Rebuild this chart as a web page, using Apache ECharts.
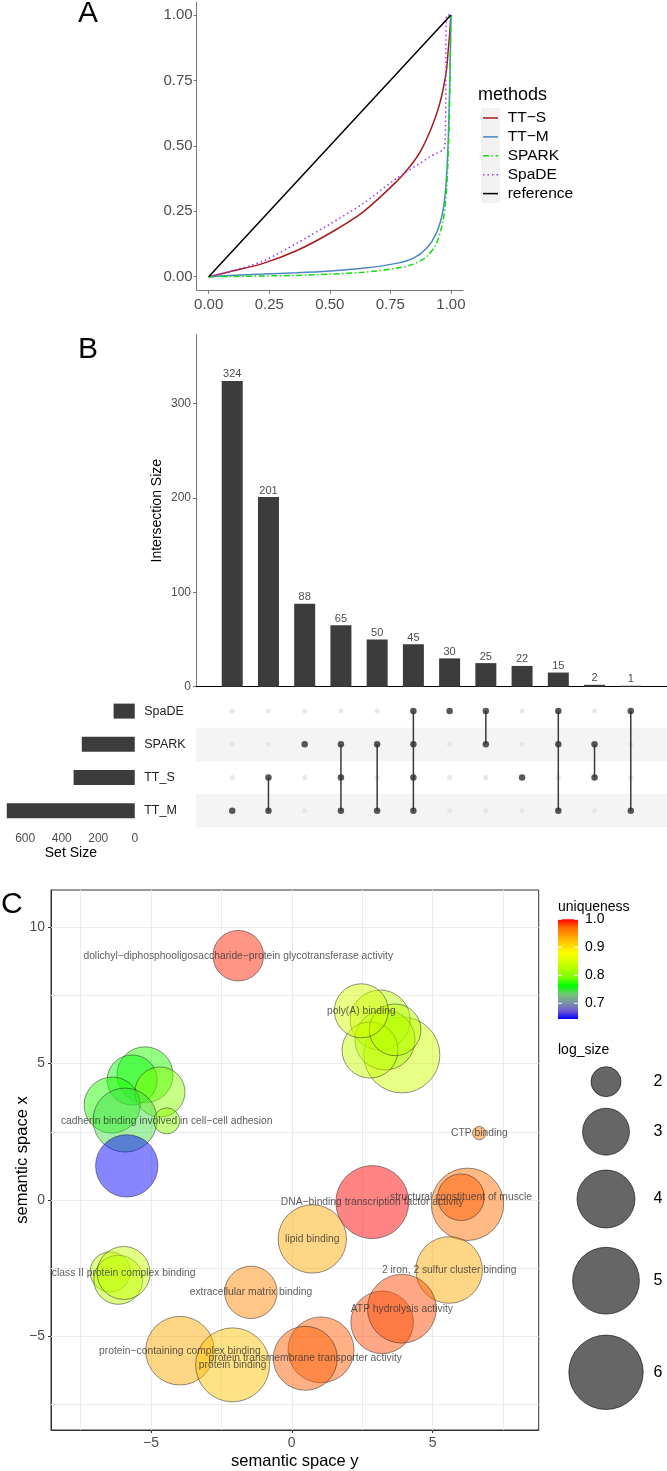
<!DOCTYPE html>
<html><head><meta charset="utf-8">
<script src="https://cdn.jsdelivr.net/npm/echarts@6/dist/echarts.min.js"></script>
<style>html,body{margin:0;padding:0;background:#fff}#c{width:667px;height:1471px}</style>
</head><body><div id="c"></div><script>
// ---------- Panel A data (Lorenz-type curves) ----------
const ttsX = [0, 0.087, 0.225, 0.362, 0.5, 0.638, 0.775, 0.83, 0.875, 0.913, 0.94, 0.954, 0.965, 0.975, 0.983, 0.989, 0.995, 0.999, 1];
const ttsY = [0, 0.019, 0.051, 0.099, 0.166, 0.248, 0.363, 0.42, 0.48, 0.554, 0.62, 0.662, 0.703, 0.751, 0.80, 0.866, 0.93, 0.99, 1];
const ttmX = [0, 0.087, 0.225, 0.362, 0.5, 0.638, 0.775, 0.844, 0.899, 0.94, 0.968, 0.982, 0.992, 0.999, 1];
const ttmY = [0, 0.005, 0.01, 0.015, 0.022, 0.032, 0.051, 0.07, 0.108, 0.166, 0.255, 0.382, 0.611, 0.93, 1];
const sparkX = [0, 0.087, 0.362, 0.5, 0.638, 0.775, 0.844, 0.899, 0.94, 0.968, 0.982, 0.992, 0.999, 1];
const sparkY = [0, 0.001, 0.005, 0.01, 0.017, 0.032, 0.048, 0.076, 0.127, 0.216, 0.331, 0.548, 0.905, 1];
const spadeX = [0, 0.087, 0.225, 0.362, 0.5, 0.638, 0.775, 0.913, 0.975, 0.983, 1];
const spadeY = [0, 0.02, 0.06, 0.127, 0.201, 0.28, 0.375, 0.458, 0.499, 1.0, 1.0];
const refX = [0, 1];
const refY = [0, 1];
const methodNames = ['TT\u2212S', 'TT\u2212M', 'SPARK', 'SpaDE', 'reference'];
const ticksA = [0, 0.25, 0.5, 0.75, 1];

// ---------- Panel B data (UpSet) ----------
const setNames = ['TT_M', 'TT_S', 'SPARK', 'SpaDE'];          // bottom to top
const setSizes = [701, 335, 290, 116];
const interSizes = [324, 201, 88, 65, 50, 45, 30, 25, 22, 15, 2, 1];
const interSets = [
  ['TT_M'], ['TT_S', 'TT_M'], ['SPARK'], ['SPARK', 'TT_S', 'TT_M'], ['SPARK', 'TT_M'],
  ['SpaDE', 'SPARK', 'TT_S', 'TT_M'], ['SpaDE'], ['SpaDE', 'SPARK'], ['TT_S'],
  ['SpaDE', 'SPARK', 'TT_M'], ['SPARK', 'TT_S'], ['SpaDE', 'TT_M']
];
const interTicks = [0, 100, 200, 300];
const setTicks = [0, 200, 400, 600];

// ---------- Panel C data (GO semantic space) ----------
const goTerm = [
  'dolichyl\u2212diphosphooligosaccharide\u2212protein glycotransferase activity',
  '', '', '', '', '', 'poly(A) binding',
  '', '', '', '', '', 'cadherin binding involved in cell\u2212cell adhesion',
  '', 'CTP binding', 'DNA\u2212binding transcription factor activity',
  '', 'structural constituent of muscle', 'lipid binding', '2 iron, 2 sulfur cluster binding',
  '', '', 'class II protein complex binding', 'extracellular matrix binding',
  '', 'ATP hydrolysis activity', 'protein\u2212containing complex binding', 'protein binding',
  '', 'protein transmembrane transporter activity'
];
const goX = [-1.90, 3.91, 3.14, 3.31, 2.78, 3.67, 2.47, -5.21, -5.67, -4.68, -6.38, -5.92, -4.44,
  -5.86, 6.66, 2.86, 6.24, 6.01, 0.73, 5.59, -6.45, -6.16, -5.97, -1.45, 3.21, 3.91, -3.97, -2.10, 1.04, 0.48];
const goY = [8.96, 5.32, 6.60, 5.87, 5.50, 6.24, 6.94, 4.59, 4.40, 3.96, 3.48, 2.93, 2.90,
  1.25, 2.45, -0.08, -0.16, 0.10, -1.43, -2.57, -2.64, -2.93, -2.68, -3.39, -4.49, -3.99, -5.53, -6.05, -5.50, -5.81];
const goLogSize = [3.31, 6.23, 4.22, 4.22, 3.81, 3.40, 3.61, 3.81, 3.26, 3.26, 3.81, 4.67, 1.86,
  4.48, 1.64, 5.81, 5.72, 2.98, 5.20, 4.98, 2.52, 3.17, 3.52, 3.47, 4.51, 5.25, 5.23, 5.94, 4.90, 4.67];
const goUniq = [0.99, 0.845, 0.83, 0.82, 0.84, 0.83, 0.85, 0.77, 0.76, 0.80, 0.77, 0.745, 0.80,
  0.645, 0.96, 1.0, 0.97, 0.975, 0.935, 0.935, 0.83, 0.83, 0.84, 0.955, 0.98, 0.98, 0.935, 0.92, 0.975, 0.975];
const ticksCX = [-5, 0, 5];
const ticksCY = [-5, 0, 5, 10];
const gridLinesC = [-7.5, -5, -2.5, 0, 2.5, 5, 7.5, 10];
const uniqTicks = [0.7, 0.8, 0.9, 1.0];
const sizeTicks = [2, 3, 4, 5, 6];

// ---------- styles ----------
const FONT = "'Liberation Sans', Arial, sans-serif";
const GREY = '#4d4d4d';
const uniqMin = 0.644, uniqMax = 1.0;
const uniqColors = ['#0000FF', '#6C5BD3', '#7D93A6', '#6FC972', '#00FF00', '#79FF00', '#AEFF00',
  '#D8FF00', '#FFFF00', '#FFD100', '#FFA100', '#FF6C00', '#FF0000'];
const methodColors = ['#A61C1C', '#4A86C0', '#11DD11', '#A033FF', '#000000'];
const methodDash = ['solid', 'solid', [6, 2.5, 1.5, 2.5], [1.5, 3], 'solid'];
const rOf = ls => 6 + 14.94 * Math.sqrt(Math.max(0, ls - 1.638));
const minus = v => String(v).replace('-', '\u2212');
const zip = (a, b) => a.map((v, i) => [v, b[i]]);

const chart = echarts.init(document.getElementById('c'), null, { renderer: 'canvas', width: 667, height: 1471 });

// matrix helpers
const rowOf = n => setNames.indexOf(n) + 1;
const darkDots = [], greyDots = [], matLines = [];
interSets.forEach((s, c) => {
  setNames.forEach(n => {
    if (s.includes(n)) darkDots.push([c + 1, rowOf(n)]); else greyDots.push([c + 1, rowOf(n)]);
  });
  if (s.length > 1) {
    const rows = s.map(rowOf);
    matLines.push([c + 1, Math.min(...rows), Math.max(...rows)]);
  }
});

const goData = goX.map((x, i) => [x, goY[i], goLogSize[i], goUniq[i]]);
const goLabels = goX.map((x, i) => [x, goY[i], goTerm[i]]).filter(d => d[2]);

const txt = (text, x, y, size, align, fill) => ({ type: 'text', style: { text, x, y, font: size + 'px ' + FONT, fill: fill || '#000',
  textAlign: align || 'left', textVerticalAlign: 'middle', align: align || 'left', verticalAlign: 'middle' } });

// colour bar geometry (legend)
const cbX = 558, cbTop = 919.3, cbH = 99.7, cbW = 20;
const cbY = v => cbTop + cbH * (uniqMax - v) / (uniqMax - uniqMin);
const sizeY = [1081.7, 1131.7, 1199, 1280.7, 1372.3];

const graphics = [
  txt('A', 78, 14, 30), txt('B', 78, 350, 30), txt('C', 1, 905, 30),
  txt('methods', 478, 95, 18),
  { type: 'rect', z: -1, shape: { x: 481, y: 108, width: 19, height: 95 }, style: { fill: '#F2F2F2' } },
  txt('uniqueness', 558, 907, 14),
  { type: 'rect', shape: { x: cbX, y: cbTop, width: cbW, height: cbH },
    style: { fill: new echarts.graphic.LinearGradient(0, 1, 0, 0, uniqColors.map((c, i) => ({ offset: i / (uniqColors.length - 1), color: c }))) } },
  txt('log_size', 558, 1050, 14)
];
methodNames.forEach((n, i) => {
  const y = 118 + i * 18.9;
  graphics.push({ type: 'line', shape: { x1: 483, y1: y, x2: 498, y2: y },
    style: { stroke: methodColors[i], lineWidth: 1.5, lineDash: methodDash[i] === 'solid' ? null : methodDash[i] } });
  graphics.push(txt(n, 507.7, y, 15.5));
});
uniqTicks.forEach(v => {
  const y = cbY(v);
  graphics.push({ type: 'line', shape: { x1: cbX, y1: y, x2: cbX + 4, y2: y }, style: { stroke: '#fff', lineWidth: 1 } });
  graphics.push({ type: 'line', shape: { x1: cbX + cbW - 4, y1: y, x2: cbX + cbW, y2: y }, style: { stroke: '#fff', lineWidth: 1 } });
  graphics.push(txt(v.toFixed(1), 585, y, 14));
});
sizeTicks.forEach((v, i) => {
  graphics.push({ type: 'circle', shape: { cx: 606, cy: sizeY[i], r: rOf(v) }, style: { fill: 'rgba(0,0,0,0.6)', stroke: '#000', lineWidth: 0.6 } });
  graphics.push(txt(String(v), 658, sizeY[i], 16, 'center'));
});

const lineS = (i, xs, ys) => ({
  name: methodNames[i], type: 'line', xAxisIndex: 0, yAxisIndex: 0, data: zip(xs, ys), showSymbol: false, symbol: 'none',
  smooth: 0.3, lineStyle: { color: methodColors[i], width: 1.5, type: methodDash[i] }
});

const gridBase = { outerBoundsMode: 'none', containLabel: false };
const option = {
  animation: false,
  textStyle: { fontFamily: FONT },
  graphic: { elements: graphics },
  visualMap: {
    type: 'continuous', show: false, min: uniqMin, max: uniqMax, dimension: 3, seriesIndex: 11,
    inRange: { color: uniqColors, colorAlpha: [0.6, 0.6] }
  },
  grid: [
    Object.assign({ left: 196.6, top: 1.9, width: 266.4, height: 287.9 }, gridBase),
    Object.assign({ left: 196, top: 334.7, width: 471, height: 352 }, gridBase),
    Object.assign({ left: 196, top: 694.5, width: 471, height: 132.8 }, gridBase),
    Object.assign({ left: 0, top: 694.5, width: 141.7, height: 132.8 }, gridBase),
    Object.assign({ left: 51, top: 890, width: 487.7, height: 540, show: true, borderColor: '#333', borderWidth: 1, backgroundColor: 'transparent' }, gridBase)
  ],
  xAxis: [
    { gridIndex: 0, type: 'value', min: -0.05, max: 1.05,
      axisLine: { onZero: false, lineStyle: { color: '#777' } },
      axisTick: { customValues: ticksA, length: 4, lineStyle: { color: '#777' } },
      axisLabel: { customValues: ticksA, formatter: v => v.toFixed(2), fontSize: 15, color: GREY, margin: 8 },
      splitLine: { show: false } },
    { gridIndex: 1, type: 'value', min: 0, max: 13, axisLine: { onZero: false, lineStyle: { color: '#000' } },
      axisTick: { show: false }, axisLabel: { show: false }, splitLine: { show: false } },
    { gridIndex: 2, type: 'value', min: 0, max: 13, show: false },
    { gridIndex: 3, type: 'value', inverse: true, min: -38, max: 738,
      axisLine: { onZero: false, lineStyle: { color: '#333' } },
      axisTick: { customValues: setTicks, length: 3, lineStyle: { color: '#333' } },
      axisLabel: { customValues: setTicks, fontSize: 12, color: GREY, margin: 5 },
      splitLine: { show: false },
      name: 'Set Size', nameLocation: 'middle', nameGap: 19, nameMoveOverlap: false, nameTextStyle: { fontSize: 14, color: '#000' } },
    { gridIndex: 4, type: 'value', min: -8.55, max: 8.77,
      axisLine: { onZero: false, lineStyle: { color: '#333' } },
      axisTick: { customValues: ticksCX, length: 3, lineStyle: { color: '#333' } },
      axisLabel: { customValues: ticksCX, formatter: minus, fontSize: 14, color: GREY, margin: 6 },
      splitLine: { show: false },
      name: 'semantic space y', nameLocation: 'middle', nameGap: 23, nameMoveOverlap: false, nameTextStyle: { fontSize: 16.5, color: '#000' } }
  ],
  yAxis: [
    { gridIndex: 0, type: 'value', min: -0.05, max: 1.05,
      axisLine: { show: true, onZero: false, lineStyle: { color: '#777' } },
      axisTick: { show: true, customValues: ticksA, length: 3, lineStyle: { color: '#777' } },
      axisLabel: { customValues: ticksA, formatter: v => v.toFixed(2), fontSize: 15, color: GREY, margin: 4 },
      splitLine: { show: false } },
    { gridIndex: 1, type: 'value', min: 0, max: 373,
      axisLine: { show: true, onZero: false, lineStyle: { color: '#777' } },
      axisTick: { show: true, customValues: interTicks, length: 3, lineStyle: { color: '#777' } },
      axisLabel: { customValues: interTicks, fontSize: 12, color: GREY, margin: 5 },
      splitLine: { show: false },
      name: 'Intersection Size', nameLocation: 'middle', nameGap: 31.5, nameMoveOverlap: false, nameTextStyle: { fontSize: 14, color: '#000' } },
    { gridIndex: 2, type: 'value', min: 0.5, max: 4.5, show: false },
    { gridIndex: 3, type: 'category', data: setNames, position: 'right',
      axisLine: { show: false }, axisTick: { show: false },
      axisLabel: { fontSize: 12.5, color: '#222', margin: 2.5 } },
    { gridIndex: 4, type: 'value', min: -8.44, max: 11.37,
      axisLine: { show: true, onZero: false, lineStyle: { color: '#333' } },
      axisTick: { show: true, customValues: ticksCY, length: 3, lineStyle: { color: '#333' } },
      axisLabel: { customValues: ticksCY, formatter: minus, fontSize: 14, color: GREY, margin: 6 },
      splitLine: { show: false },
      name: 'semantic space x', nameLocation: 'middle', nameGap: 20, nameMoveOverlap: false, nameTextStyle: { fontSize: 16.5, color: '#000' } }
  ],
  series: [
    // 0-4 panel A
    lineS(0, ttsX, ttsY),
    lineS(1, ttmX, ttmY),
    lineS(2, sparkX, sparkY),
    lineS(3, spadeX, spadeY),
    lineS(4, refX, refY),
    // 5 intersection bars
    { type: 'bar', xAxisIndex: 1, yAxisIndex: 1, data: interSizes.map((v, i) => [i + 1, v]), barWidth: 21,
      itemStyle: { color: '#3c3c3c' },
      label: { show: true, position: 'top', distance: 1, fontSize: 11, color: GREY, formatter: p => p.data[1] } },
    // 6 matrix grey dots + stripes
    { type: 'scatter', xAxisIndex: 2, yAxisIndex: 2, data: greyDots, symbolSize: 5, itemStyle: { color: '#E2E2E2' }, z: 2,
      markArea: { silent: true, z: 0, itemStyle: { color: '#F4F4F4' },
        data: [[{ yAxis: rowOf('SPARK') - 0.5 }, { yAxis: rowOf('SPARK') + 0.5 }], [{ yAxis: rowOf('TT_M') - 0.5 }, { yAxis: rowOf('TT_M') + 0.5 }]] } },
    // 7 matrix connecting lines
    { type: 'custom', xAxisIndex: 2, yAxisIndex: 2, data: matLines, z: 3,
      renderItem: (params, api) => {
        const p1 = api.coord([api.value(0), api.value(1)]);
        const p2 = api.coord([api.value(0), api.value(2)]);
        return { type: 'line', shape: { x1: p1[0], y1: p1[1], x2: p2[0], y2: p2[1] }, style: { stroke: '#3a3a3a', lineWidth: 1.5 } };
      } },
    // 8 matrix dark dots
    { type: 'scatter', xAxisIndex: 2, yAxisIndex: 2, data: darkDots, symbolSize: 6.5, itemStyle: { color: '#2e2e2e' }, z: 4 },
    // 9 set size bars
    { type: 'bar', xAxisIndex: 3, yAxisIndex: 3, data: setSizes, barWidth: 15, itemStyle: { color: '#3c3c3c' } },
    // 10 panel C grid lines
    { type: 'scatter', xAxisIndex: 4, yAxisIndex: 4, data: [], z: 1,
      markLine: { silent: true, z: 1, symbol: 'none', label: { show: false },
        lineStyle: { color: '#EBEBEB', width: 1, type: 'solid' }, animation: false,
        data: gridLinesC.filter(v => v > -8.55 && v < 8.77).map(v => ({ xAxis: v }))
          .concat(gridLinesC.map(v => ({ yAxis: v }))) } },
    // 11 bubbles
    { type: 'scatter', xAxisIndex: 4, yAxisIndex: 4, data: goData, z: 5,
      symbolSize: v => 2 * rOf(v[2]),
      itemStyle: { borderColor: '#1a1a1a', borderWidth: 0.6 } },
    // 12 bubble labels
    { type: 'scatter', xAxisIndex: 4, yAxisIndex: 4, data: goLabels, z: 8, symbolSize: 0, silent: true,
      itemStyle: { color: 'rgba(0,0,0,0)' },
      label: { show: true, position: 'inside', formatter: p => p.data[2], fontSize: 10.3, color: '#333' } }
  ]
};
chart.setOption(option);
</script></body></html>
